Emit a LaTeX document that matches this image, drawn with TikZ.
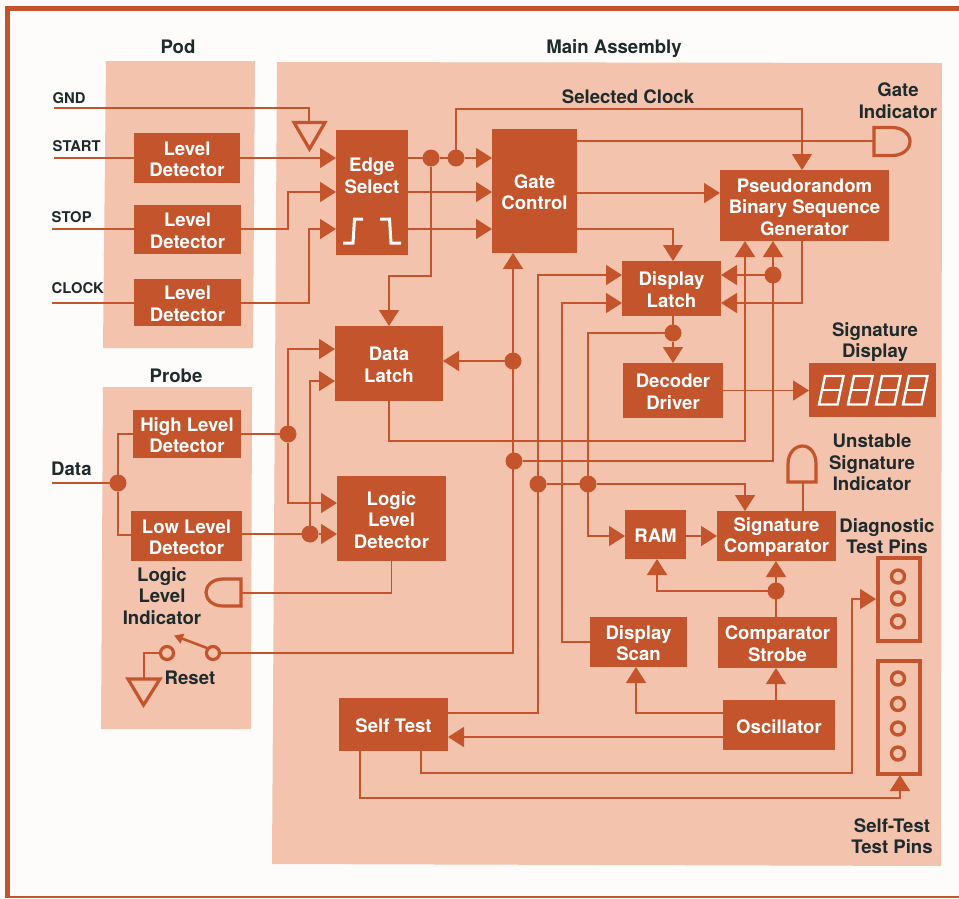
\documentclass[tikz,border=0pt]{standalone}
\usepackage{fontspec}
\setmainfont{TeX Gyre Heros}
\usetikzlibrary{arrows.meta}
\definecolor{rust}{HTML}{C3542B}
\definecolor{panel}{HTML}{F3C3AD}
\definecolor{ink}{HTML}{1E2A2C}
\definecolor{paper}{HTML}{FEFCFA}
\newcommand{\st}{\rule{0pt}{16.5pt}}
\tikzset{
  blk/.style={fill=rust,text=white,inner sep=0pt,outer sep=0pt,align=center,font=\bfseries\fontsize{18.6}{21.5}\selectfont},
  lab/.style={text=ink,inner sep=0pt,align=center,font=\bfseries\fontsize{18.6}{21.5}\selectfont},
  sig/.style={text=ink,inner sep=0pt,anchor=west,font=\bfseries\fontsize{14.8}{16}\selectfont},
  wire/.style={draw=rust,line width=1.7pt},
  arr/.style={wire,-{Triangle[length=16pt,width=20pt]}},
  dot/.style={circle,fill=rust,inner sep=0pt,outer sep=0pt,minimum size=17pt},
  sym/.style={draw=rust,line width=3.2pt,line join=miter},
  pin/.style={circle,draw=rust,line width=3.4pt,inner sep=0pt,minimum size=13pt},
  seg/.style={draw=white,line width=2.4pt,line join=miter},
  pulse/.style={draw=paper,line width=3pt,line join=miter},
}
\begin{document}
\begin{tikzpicture}[x=1pt,y=-1pt]
\useasboundingbox (0,0) rectangle (959,898);
\fill[paper] (0,0) rectangle (959,898);
% frame
\fill[rust] (5,6) rectangle (959,11);
\fill[rust] (5,6) rectangle (10,898);
\fill[rust] (5,896) rectangle (959,898);
% panels
\fill[panel] (106,61) -- (255,61) -- (253,348) -- (103,348) -- cycle;
\fill[panel] (103,387) -- (252,387) -- (251,729) -- (101,729) -- cycle;
\fill[panel] (277,62) -- (942,63) -- (941,866) -- (272,864) -- cycle;

% blocks
\node[blk,minimum width=106pt,minimum height=50pt] (ld1) at (187,158) {\st Level\\Detector};
\node[blk,minimum width=107pt,minimum height=49pt] (ld2) at (187.5,229.5) {\st Level\\Detector};
\node[blk,minimum width=107pt,minimum height=47pt] (ld3) at (187.5,302.5) {\st Level\\Detector};
\node[blk,minimum width=72pt,minimum height=125pt] (edge) at (372,192.5) {\st Edge\\Select\\[15pt]\ };
\node[blk,minimum width=85pt,minimum height=124pt] (gate) at (534.5,191) {\st Gate\\Control};
\node[blk,minimum width=169pt,minimum height=71pt] (prbs) at (804.5,205.5) {\st Pseudorandom\\Binary Sequence\\Generator};
\node[blk,minimum width=99pt,minimum height=55pt] (dl) at (671.5,288.5) {\st Display\\Latch};
\node[blk,minimum width=100pt,minimum height=55pt] (dec) at (673,390.5) {\st Decoder\\Driver};
\node[blk,minimum width=127pt,minimum height=54pt] (disp) at (872.5,390) {};
\node[blk,minimum width=108pt,minimum height=75pt] (data) at (389,363.5) {\st Data\\Latch};
\node[blk,minimum width=108pt,minimum height=48pt] (hi) at (187,434) {\st High Level\\Detector};
\node[blk,minimum width=111pt,minimum height=50pt] (lo) at (186.5,536) {\st Low Level\\Detector};
\node[blk,minimum width=109pt,minimum height=85pt] (lld) at (391.5,518.5) {\st Logic\\Level\\Detector};
\node[blk,minimum width=61pt,minimum height=49pt] (ram) at (655.5,534.5) {\st RAM};
\node[blk,minimum width=119pt,minimum height=50pt] (sc) at (776.5,536) {\st Signature\\Comparator};
\node[blk,minimum width=97pt,minimum height=50pt] (ds) at (638.5,642) {\st Display\\Scan};
\node[blk,minimum width=119pt,minimum height=51pt] (cs) at (777.5,642.5) {\st Comparator\\Strobe};
\node[blk,minimum width=112pt,minimum height=50pt] (osc) at (779,725) {\st Oscillator};
\node[blk,minimum width=109pt,minimum height=53pt] (st) at (393.5,724.5) {\st Self Test};

% pin boxes
\draw[sym,line width=4pt] (878,557.5) rectangle (919.5,641);
\draw[sym,line width=4pt] (878,660.5) rectangle (919.5,773.5);
\coordinate (dpin) at (876,599);
\coordinate (spin) at (900,775);
\node[pin] (d1) at (898,576.5) {};
\node[pin] (d2) at (898,598.5) {};
\node[pin] (d3) at (898,621.5) {};
\node[pin] (s1) at (898,678.5) {};
\node[pin] (s2) at (898,704) {};
\node[pin] (s3) at (898,728.5) {};
\node[pin] (s4) at (898,753.5) {};

% junctions
\node[dot] (ja) at (431,158) {};
\node[dot] (jb) at (456,158) {};
\node[dot] (jc) at (513,361) {};
\node[dot] (jd) at (773,275) {};
\node[dot] (je) at (673,333) {};
\node[dot] (jf) at (514,461) {};
\node[dot] (jg) at (538,484) {};
\node[dot] (jh) at (588,484) {};
\node[dot] (ji) at (776,591) {};
\node[dot] (jj) at (288,434) {};
\node[dot] (jk) at (310,534) {};
\node[dot] (jl) at (118,483) {};

% free ends and symbols
\coordinate (gnd) at (54,108);
\coordinate (start) at (54,158);
\coordinate (stop) at (52,229);
\coordinate (clock) at (52,303);
\coordinate (datain) at (52,483);
\coordinate (gtop) at (309,124);
\coordinate (gi) at (874,141);
\coordinate (ui) at (803,482);
\coordinate (li) at (241,593);
\node[circle,draw=rust,line width=3.2pt,inner sep=0pt,minimum size=13pt] (swa) at (167,653) {};
\node[circle,draw=rust,line width=3.2pt,inner sep=0pt,minimum size=13pt] (swb) at (213,653) {};
\coordinate (swtip) at (174,635.5);
\coordinate (rg) at (144,680);

% ground symbols
\draw[sym] (294,122.5) -- (325,122.5) -- (309.5,149) -- cycle;
\draw[sym] (128,679) -- (160,679) -- (143.5,705) -- cycle;
% indicators
\draw[sym] (gi |- 0,127.5) -- (892,127.5) .. controls (903,127.5) and (910,134) .. (910,141.5) .. controls (910,149) and (903,155.5) .. (892,155.5) -- (gi |- 0,155.5) -- cycle;
\draw[sym] (788,482) -- (788,464) .. controls (788,453) and (795,446) .. (802.5,446) .. controls (810,446) and (816,453) .. (816,464) -- (816,482) -- cycle;
\draw[sym] (241,579) -- (223,579) .. controls (212,579) and (206,586) .. (206,592.5) .. controls (206,599) and (212,606) .. (223,606) -- (241,606) -- cycle;
% switch lever
\draw[wire,line width=2.6pt,-{Triangle[length=9pt,width=10pt]}] (207,648) -- (swtip);

% wires
\draw[wire] (gnd) -| (gtop);
\draw[wire] (start) -- (ld1.west |- start);
\draw[wire] (stop) -- (ld2.west |- stop);
\draw[wire] (clock) -- (ld3.west |- clock);
\draw[arr] (ld1.east |- start) -- (edge.west |- start);
\draw[arr] (ld2.east |- stop) -- (288,229) |- (edge.west |- 0,192);
\draw[arr] (ld3.east |- clock) -- (309,303) |- (edge.west |- 0,229);
\draw[wire] (edge.east |- ja) -- (ja);
\draw[wire] (ja) -- (jb);
\draw[arr] (jb) -- (gate.west |- jb);
\draw[arr] (edge.east |- 0,192) -- (gate.west |- 0,192);
\draw[arr] (edge.east |- 0,229) -- (gate.west |- 0,229);
\draw[arr] (ja) |- (389,276) -- (data.north);
\draw[arr] (jb) |- (802,109) -- (prbs.north -| 802,0);
\draw[wire] (gate.east |- gi) -- (gi);
\draw[arr] (gate.east |- 0,193) -- (prbs.west |- 0,193);
\draw[arr] (gate.east |- 0,229) -| (dl.north -| 673,0);
\draw[arr] (swb) -- (513,653) -- (gate.south -| 513,0);
\draw[arr] (jc) -- (data.east |- jc);
\draw[arr] (jf) -| (prbs.south -| 773,0);
\draw[arr] (jd) -- (dl.east |- jd);
\draw[arr] (data.south) |- (745,441) -- (prbs.south -| 745,0);
\draw[arr] (prbs.south -| 802,0) |- (dl.east |- 0,303);
\draw[arr] (st.east |- 0,713) -- (538,713) |- (dl.west |- 0,275);
\draw[arr] (ds.west) -- (562,642) |- (dl.west |- 0,303);
\draw[wire] (dl.south -| je) -- (je);
\draw[arr] (je) -- (dec.north -| je);
\draw[arr] (je) -| (588,536) -- (ram.west |- 0,536);
\draw[arr] (jg) -- (jh) -- (745,484) -- (sc.north -| 745,0);
\draw[arr] (ram.east |- 0,536) -- (sc.west);
\draw[wire] (sc.north -| ui) -- (ui);
\draw[arr] (cs.north -| ji) -- (sc.south -| ji);
\draw[arr] (ji) -| (ram.south -| 657,0);
\draw[arr] (osc.north -| 776,0) -- (cs.south -| 776,0);
\draw[arr] (osc.west |- 0,713) -| (ds.south -| 636,0);
\draw[arr] (osc.west |- 0,737) -- (st.east |- 0,737);
\draw[arr] (st.south -| 421,0) |- (852,773) |- (dpin);
\draw[arr] (st.south -| 360,0) |- (900,798) -- (spin);
\draw[arr] (dec.east) -- (disp.west |- dec.east);
\draw[wire] (datain) -- (jl);
\draw[wire] (hi.west) -| (jl);
\draw[wire] (lo.west |- 0,535) -| (jl);
\draw[wire] (hi.east) -- (jj);
\draw[arr] (jj) |- (data.west |- 0,349);
\draw[arr] (jj) |- (lld.west |- 0,503);
\draw[wire] (lo.east |- jk) -- (jk);
\draw[arr] (jk) -- (lld.west |- jk);
\draw[arr] (jk) |- (data.west |- 0,381);
\draw[wire] (lld.south) |- (li);
\draw[wire] (swa) -| (rg);

% pulse glyphs in Edge Select
\draw[pulse] (343,243) -- (353,243) -- (354.5,219) -- (363,219);
\draw[pulse] (380,219) -- (389.5,219) -- (391,243) -- (401,243);

% display digits
\foreach \dx in {0,29,57,84} {
  \begin{scope}[xshift=\dx pt]
    \draw[seg] (819,404.5) -- (825,376) -- (843.5,376) -- (837.5,404.5) -- cycle;
    \draw[seg] (822,390) -- (840.5,390);
  \end{scope}
}

% labels
\node[lab] (tpod) at (178,47) {Pod};
\node[lab] (tmain) at (614,49) {Main Assembly};
\node[lab] (tclk) at (628,96.5) {Selected Clock};
\node[lab] (tgi) at (898,100.5) {Gate\\Indicator};
\node[lab] (tsd) at (875,342) {Signature\\Display};
\node[lab] (tus) at (872,462.5) {Unstable\\Signature\\Indicator};
\node[lab] (tdt) at (887,536) {Diagnostic\\Test Pins};
\node[lab] (tst) at (892,836) {Self-Test\\Test Pins};
\node[lab] (tpr) at (176,375.5) {Probe};
\node[lab] (tll) at (162,596) {Logic\\Level\\Indicator};
\node[lab] (trs) at (190,677.5) {Reset};
\node[lab,anchor=west] (tda) at (51,468.5) {Data};
\node[sig] (tgnd) at (52.5,98.5) {GND};
\node[sig] (tsta) at (52.5,146) {START};
\node[sig] (tsto) at (51.5,217) {STOP};
\node[sig] (tclo) at (51.5,288.5) {CLOCK};
\end{tikzpicture}
\end{document}
